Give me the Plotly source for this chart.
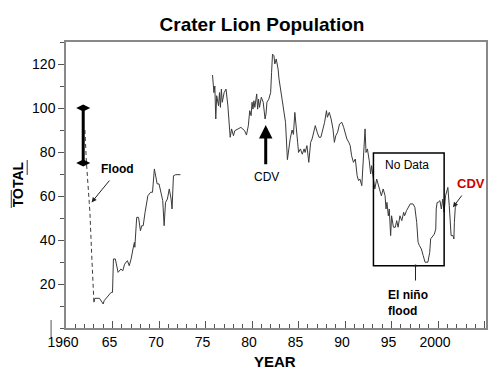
import plotly.graph_objects as go

# Error-bar style range shown before the flood
bar_year = [1961.85, 1961.85]
bar_total = [100, 75]

# Dashed drop during the flood
flood_year = [1962.03, 1962.2, 1962.5, 1962.57, 1962.75, 1962.92, 1963.0]
flood_total = [90, 75, 57, 52.6, 34.5, 16.4, 11.7]

# Early series 1963-1972
early_year = [1963.0, 1963.1, 1963.6, 1963.8, 1964.0, 1964.1, 1964.5, 1964.85, 1965.0, 1965.1,
              1965.3, 1965.5, 1965.6, 1965.9, 1966.1, 1966.3, 1966.6, 1966.8, 1967.0, 1967.2,
              1967.35, 1967.4, 1967.5, 1967.6, 1967.8, 1968.0, 1968.15, 1968.3, 1968.5, 1968.7,
              1968.8, 1969.1, 1969.3, 1969.5, 1969.6, 1969.8, 1970.0, 1970.2, 1970.4, 1970.55,
              1970.7, 1970.9, 1971.1, 1971.3, 1971.4, 1971.55, 1971.8, 1972.3]
early_total = [11.7, 13.5, 13.5, 12.4, 10.9, 12.4, 14.7, 16.2, 16.2, 31.4,
               31.4, 26, 25.3, 26.8, 26, 29, 30.6, 28.3, 31.4, 35.9,
               38.9, 36.7, 42, 50.3, 50.3, 44.2, 46.5, 46.5, 52.6, 57.1,
               60.1, 61.7, 61.7, 72.3, 69.2, 65.5, 65.5, 61.7, 57.9, 46.5,
               57.1, 58.6, 63.2, 58.6, 54.1, 69.2, 69.7, 69.7]

# Later series 1975-2002
late_year = [1975.75, 1975.9, 1976.0, 1976.1, 1976.2, 1976.4, 1976.5, 1976.6, 1976.7, 1976.8,
             1977.0, 1977.2, 1977.4, 1977.5, 1977.65, 1977.8, 1978.0, 1978.15, 1978.8, 1979.2,
             1979.4, 1979.6, 1979.75, 1979.9, 1980.0, 1980.1, 1980.2, 1980.3, 1980.5, 1980.6,
             1980.7, 1980.8, 1981.0, 1981.2, 1981.4, 1981.5, 1981.6, 1981.8, 1982.0, 1982.1,
             1982.2, 1982.35, 1982.45, 1982.6, 1982.8, 1982.9, 1983.1, 1983.35, 1983.6, 1983.8,
             1984.0, 1984.1, 1984.3, 1984.45, 1984.6, 1984.7, 1984.9, 1985.0, 1985.2, 1985.4,
             1985.6, 1985.7, 1985.9, 1986.1, 1986.3, 1986.45, 1986.6, 1986.8, 1987.0, 1987.2,
             1987.4, 1987.6, 1987.8, 1988.0, 1988.1, 1988.3, 1988.5, 1988.7, 1988.85, 1989.0,
             1989.2, 1989.4, 1989.65, 1989.85, 1990.0, 1990.2, 1990.4, 1990.55, 1990.7, 1990.9,
             1991.1, 1991.3, 1991.45, 1991.6, 1991.8, 1992.0, 1992.15, 1992.25, 1992.4, 1992.6,
             1992.75, 1992.85, 1993.0, 1993.2, 1993.4, 1993.6, 1993.75, 1993.9, 1994.1, 1994.3,
             1994.4, 1994.5, 1994.65, 1994.75, 1994.9, 1995.0, 1995.2, 1995.4, 1995.55, 1995.7,
             1995.9, 1996.1, 1996.3, 1996.4, 1996.6, 1996.8, 1997.0, 1997.3, 1997.5, 1997.7,
             1997.85, 1998.0, 1998.2, 1998.4, 1998.6, 1998.9, 1999.1, 1999.2, 1999.5, 1999.6,
             1999.75, 1999.8, 1999.9, 2000.0, 2000.2, 2000.35, 2000.5, 2000.65, 2000.8, 2000.95,
             2001.05, 2001.2, 2001.3, 2001.4, 2001.6, 2001.7, 2001.75, 2001.85, 2001.95]
late_total = [115, 107, 110, 95, 105.6, 101, 107, 100.3, 108.6, 102.6,
              107, 108.6, 101, 96.5, 86.7, 90.5, 87.4, 89.7, 91.2, 89.7,
              87.7, 92, 98.8, 96.5, 102.6, 99.5, 103.3, 100.3, 106.4, 99.5,
              104, 100.3, 104.9, 102.6, 95, 97.3, 102.6, 104, 107, 116.2,
              124.5, 123.8, 120, 122.3, 117.7, 113.2, 107, 101, 93.5, 76.5,
              84, 86, 90, 88, 98, 92, 84.4, 79.8, 81.4, 79,
              81.4, 79.8, 82.9, 75.3, 84.4, 85.9, 89, 92, 89, 86.7,
              86.7, 89.7, 93.5, 98.8, 95.8, 98, 95, 90.5, 84.4, 87.4,
              89, 92.7, 93.5, 91.2, 89, 85.9, 84.4, 82.9, 78.3, 75.3,
              76.8, 69.2, 67, 67.7, 64.7, 81.4, 90.5, 79.8, 81.4, 76,
              70, 73.8, 69.2, 63.2, 67.7, 64.7, 61.7, 60.1, 63.2, 60.1,
              54.1, 57.1, 51, 54.1, 42, 51, 45.8, 45.8, 48.8, 45.8,
              51, 48.8, 52.6, 51, 53.3, 54.9, 56.4, 56.4, 54.9, 48,
              39, 37.4, 35.9, 32.9, 29.9, 29.9, 34.4, 40.5, 42, 42.7,
              45, 54.1, 57.1, 57.1, 57.9, 54.1, 58.6, 52.6, 60.1, 63.2,
              63.9, 55.6, 50.3, 42, 42, 40.5, 48, 54.9, 55.6]

x_tickvals = [1960, 1965, 1970, 1975, 1980, 1985, 1990, 1995, 2000, 2005]
x_ticktext = ["1960", "65", "70", "75", "80", "85", "90", "95", "2000", ""]
y_tickvals = [20, 40, 60, 80, 100, 120]

FONT = "Arial, Liberation Sans, sans-serif"
LINE = "#3a3a3a"

fig = go.Figure()
fig.add_trace(go.Scatter(x=flood_year, y=flood_total, mode="lines",
                         line=dict(color=LINE, width=1, dash="4px,3px"), hoverinfo="skip"))
fig.add_trace(go.Scatter(x=early_year, y=early_total, mode="lines",
                         line=dict(color=LINE, width=1), hoverinfo="skip"))
fig.add_trace(go.Scatter(x=late_year, y=late_total, mode="lines",
                         line=dict(color=LINE, width=1), hoverinfo="skip"))
fig.add_trace(go.Scatter(x=bar_year, y=bar_total, mode="lines+markers",
                         line=dict(color="black", width=3),
                         marker=dict(symbol="diamond-wide", size=10, color="black"),
                         hoverinfo="skip"))

# No Data box
fig.add_shape(type="rect", x0=1993.05, x1=2000.65, y0=28.3, y1=79.5,
              line=dict(color="black", width=1.5))

annots = [
    dict(x=1965.56, y=72.3, text="<b>Flood</b>", showarrow=False, font=dict(size=12)),
    dict(x=1962.75, y=57.1, ax=1964.8, ay=67.7, axref="x", ayref="y", text="",
         showarrow=True, arrowhead=2, arrowsize=1, arrowwidth=1, arrowcolor="#222"),
    dict(x=1981.55, y=68.6, text="CDV", showarrow=False, font=dict(size=12)),
    dict(x=1981.47, y=92.3, ax=1981.47, ay=73.8, axref="x", ayref="y", text="",
         showarrow=True, arrowhead=2, arrowsize=0.9, arrowwidth=3, arrowcolor="black"),
    dict(x=1996.68, y=74.1, text="No Data", showarrow=False, font=dict(size=12)),
    dict(x=1997.57, y=28.3, ax=1997.57, ay=20.9, axref="x", ayref="y", text="",
         showarrow=True, arrowhead=6, arrowsize=0.6, arrowwidth=1, arrowcolor="#222"),
    dict(x=1994.44, y=19.2, text="<b>El niño<br>flood</b>", showarrow=False,
         xanchor="left", yanchor="top", align="left", font=dict(size=12)),
    dict(x=2003.5, y=65.5, text="<b>CDV</b>", showarrow=False,
         font=dict(size=13, color="#d00000")),
    dict(x=2001.6, y=54.9, ax=2002.67, ay=60.9, axref="x", ayref="y", text="",
         showarrow=True, arrowhead=2, arrowsize=1, arrowwidth=1, arrowcolor="#222"),
    dict(x=-0.1137, y=0.5035, xref="paper", yref="paper", text="<b>TOTAL</b>",
         textangle=-90, showarrow=False, xanchor="center", yanchor="middle",
         font=dict(size=14)),
    dict(x=0.4976, y=-0.1154, xref="paper", yref="paper", text="<b>YEAR</b>",
         showarrow=False, xanchor="center", yanchor="middle", font=dict(size=15)),
]
for a in annots:
    fig.add_annotation(**a)

# decorative lines around TOTAL and stray tick left of axis origin
fig.add_shape(type="line", xref="paper", yref="paper", x0=-0.1303, x1=-0.1303,
              y0=0.4196, y1=0.4825, line=dict(color="#333", width=1))
fig.add_shape(type="line", xref="paper", yref="paper", x0=-0.0924, x1=-0.0924,
              y0=0.535, y1=0.5874, line=dict(color="#333", width=1))
fig.add_shape(type="line", xref="paper", yref="paper", x0=-0.0355, x1=-0.0355,
              y0=-0.0315, y1=0.028, line=dict(color="#555", width=1))

fig.update_layout(
    width=500, height=375,
    margin=dict(l=66, r=12, t=42, b=47),
    paper_bgcolor="white", plot_bgcolor="white",
    showlegend=False,
    font=dict(family=FONT, color="black"),
    title=dict(text="<b>Crater Lion Population</b>", x=0.524, y=0.936,
               xanchor="center", yanchor="middle", font=dict(size=19, color="black")),
    xaxis=dict(range=[1960, 2005.15], tickvals=x_tickvals, ticktext=x_ticktext,
               ticks="inside", ticklen=7, tickcolor="#555", tickwidth=1,
               minor=dict(ticks="inside", ticklen=4, dtick=1, tick0=1960, tickcolor="#555"),
               showgrid=False, zeroline=False, showline=True, linecolor="#888",
               linewidth=1.5, mirror=True, tickfont=dict(size=14), ticklabelshift=-3),
    yaxis=dict(range=[0, 130], tickvals=y_tickvals,
               ticks="outside", ticklen=6, tickcolor="#555", tickwidth=1,
               minor=dict(ticks="outside", ticklen=4, dtick=10, tick0=0, tickcolor="#555"),
               showgrid=False, zeroline=False, showline=True, linecolor="#888",
               linewidth=1.5, mirror=True, tickfont=dict(size=14)),
)

fig.write_html("out.html", config={"displayModeBar": False},
               post_script="document.body.style.margin='0';document.body.style.padding='0';")
